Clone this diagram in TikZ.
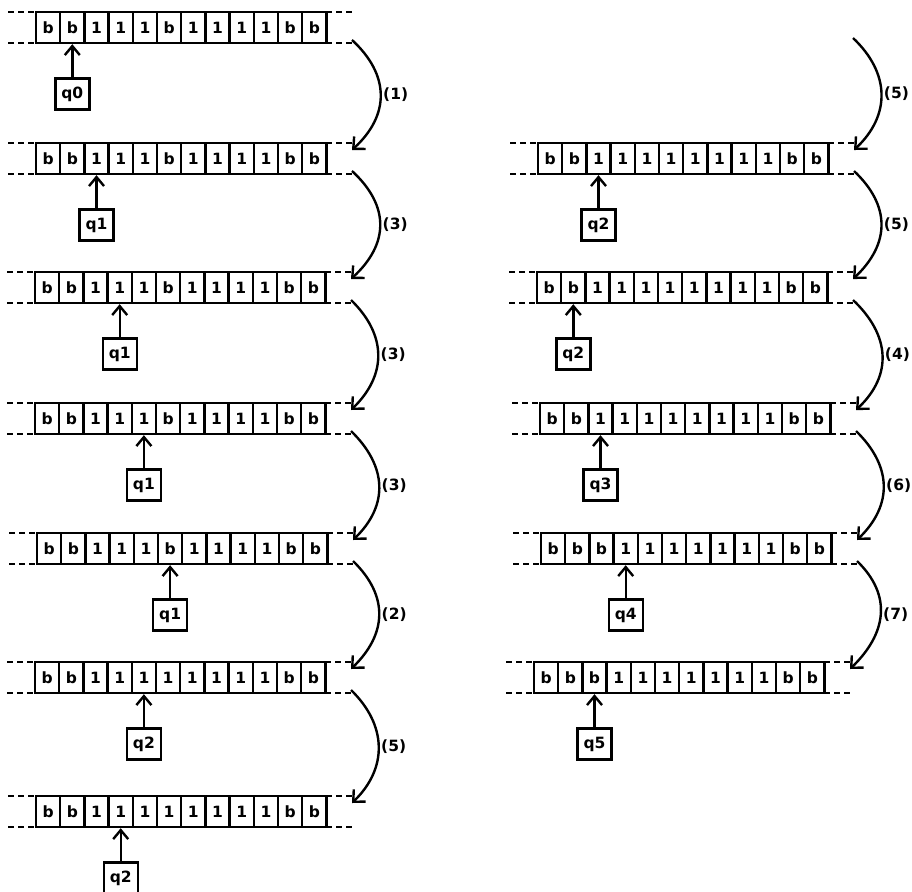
\documentclass[tikz,border=0pt]{standalone}
\usepackage{fontspec}
\setsansfont{DejaVu Sans}
\usetikzlibrary{arrows.meta}

\tikzset{
  tapefont/.style={font=\sffamily\bfseries\fontsize{15.5}{17}\selectfont},
  cell/.style={draw, line width=2.4pt, minimum width=24.2pt, minimum height=31pt,
    inner sep=0pt, tapefont},
  statebox/.style={draw, line width=2.4pt, minimum width=34pt, minimum height=31pt,
    inner sep=0pt, tapefont},
  tapeend/.style={line width=2.4pt, dash pattern=on 6pt off 4pt},
  headarrow/.style={line width=2.4pt, -{Straight Barb[length=9pt,width=15pt]}},
  move/.style={line width=2.4pt, -{Straight Barb[length=9pt,width=17pt]}},
  steplabel/.style={right, inner sep=1.5pt, tapefont},
}

% \tape{name}{left x}{top y}{cells}{head cell}{state}
\newcommand{\tape}[6]{%
  \foreach \s [count=\i] in {#4} {
    \node[cell] (#1c\i) at ({#2+(\i-0.5)*24.2}, {#3+15.5}) {\s};
  }
  \draw[tapeend] (#2-28,#3) -- (#2,#3) (#2+290.4,#3) -- (#2+316,#3);
  \draw[tapeend] (#2-28,#3+31) -- (#2,#3+31) (#2+290.4,#3+31) -- (#2+316,#3+31);
  \node[statebox] (#1q) at ({#2+(#5-0.5)*24.2}, {#3+82}) {#6};
  \draw[headarrow] (#1q) -- (#1c#5);
  \coordinate (#1in) at (#2+316,#3+7);
  \coordinate (#1out) at (#2+316,#3+28);
}

\begin{document}
\begin{tikzpicture}[x=1pt, y=-1pt]
  \useasboundingbox (0,0) rectangle (912,891);
  % left column
  \tape{L1}{36}{12}{b,b,1,1,1,b,1,1,1,1,b,b}{2}{q0}
  \tape{L2}{36}{143}{b,b,1,1,1,b,1,1,1,1,b,b}{3}{q1}
  \tape{L3}{35}{272}{b,b,1,1,1,b,1,1,1,1,b,b}{4}{q1}
  \tape{L4}{35}{403}{b,b,1,1,1,b,1,1,1,1,b,b}{5}{q1}
  \tape{L5}{37}{533}{b,b,1,1,1,b,1,1,1,1,b,b}{6}{q1}
  \tape{L6}{35}{662}{b,b,1,1,1,1,1,1,1,1,b,b}{5}{q2}
  \tape{L7}{36}{796}{b,b,1,1,1,1,1,1,1,1,b,b}{4}{q2}
  % right column
  \tape{R1}{538}{143}{b,b,1,1,1,1,1,1,1,1,b,b}{3}{q2}
  \tape{R2}{537}{272}{b,b,1,1,1,1,1,1,1,1,b,b}{2}{q2}
  \tape{R3}{540}{403}{b,b,1,1,1,1,1,1,1,1,b,b}{3}{q3}
  \tape{R4}{541}{533}{b,b,b,1,1,1,1,1,1,1,b,b}{4}{q4}
  \tape{R5}{534}{662}{b,b,b,1,1,1,1,1,1,1,b,b}{3}{q5}
  \coordinate (R0) at (853,38);

  % steps
  \draw[move] (L1out) .. controls +(38,35) and +(38,-35) .. (L2in) node[midway, steplabel] {(1)};
  \draw[move] (L2out) .. controls +(38,35) and +(38,-35) .. (L3in) node[midway, steplabel] {(3)};
  \draw[move] (L3out) .. controls +(36,35) and +(36,-35) .. (L4in) node[midway, steplabel] {(3)};
  \draw[move] (L4out) .. controls +(36,35) and +(36,-35) .. (L5in) node[midway, steplabel] {(3)};
  \draw[move] (L5out) .. controls +(36,35) and +(36,-35) .. (L6in) node[midway, steplabel] {(2)};
  \draw[move] (L6out) .. controls +(36,35) and +(36,-35) .. (L7in) node[midway, steplabel] {(5)};
  \draw[move] (R0) .. controls +(37,35) and +(37,-35) .. (R1in) node[midway, steplabel] {(5)};
  \draw[move] (R1out) .. controls +(37,35) and +(37,-35) .. (R2in) node[midway, steplabel] {(5)};
  \draw[move] (R2out) .. controls +(37,35) and +(37,-35) .. (R3in) node[midway, steplabel] {(4)};
  \draw[move] (R3out) .. controls +(36,35) and +(36,-35) .. (R4in) node[midway, steplabel] {(6)};
  \draw[move] (R4out) .. controls +(36,35) and +(36,-35) .. (R5in) node[midway, steplabel] {(7)};
\end{tikzpicture}
\end{document}
